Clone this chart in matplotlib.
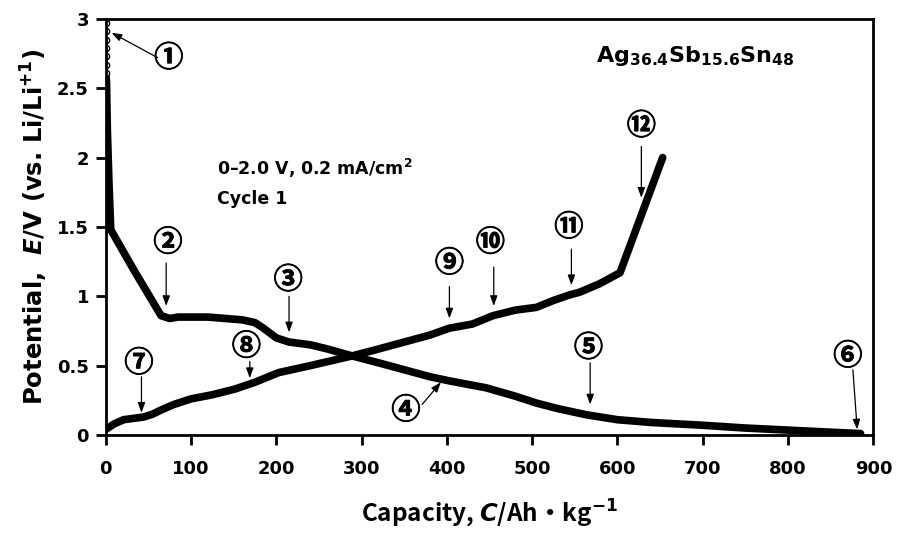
import matplotlib

matplotlib.use("Agg")
import matplotlib.pyplot as plt
import matplotlib.patheffects as pe

plt.rcParams["font.family"] = ["DejaVu Sans", "Noto Sans CJK JP"]
plt.rcParams["font.weight"] = "bold"
plt.rcParams["axes.labelweight"] = "bold"
plt.rcParams["mathtext.fontset"] = "custom"
plt.rcParams["mathtext.rm"] = "DejaVu Sans:bold"
plt.rcParams["mathtext.it"] = "DejaVu Sans:italic:bold"
plt.rcParams["mathtext.bf"] = "DejaVu Sans:bold"

# first discharge (lithiation), capacity in Ah/kg vs potential in V
open_y = [2.97, 2.91, 2.85, 2.79, 2.73, 2.67, 2.61]   # sparse open circles at C=0
discharge_x = [0, 1, 2, 4, 6, 33, 65, 75, 85, 100, 120, 140, 160, 175, 185, 200,
               215, 240, 260, 289, 320, 350, 380, 403, 420, 446, 480, 505, 530,
               564, 600, 640, 700, 750, 800, 850, 885]
discharge_y = [2.61, 2.55, 2.2, 1.8, 1.48, 1.19, 0.86, 0.84, 0.85, 0.85, 0.85, 0.84,
               0.83, 0.81, 0.77, 0.70, 0.67, 0.65, 0.62, 0.57, 0.52, 0.47, 0.42,
               0.39, 0.37, 0.34, 0.28, 0.23, 0.19, 0.145, 0.11, 0.09, 0.07, 0.05,
               0.035, 0.02, 0.01]
# first charge (delithiation)
charge_x = [0, 10, 21, 45, 55, 65, 80, 100, 125, 151, 175, 203, 240, 289, 320, 350,
            380, 403, 430, 454, 480, 505, 525, 544, 556, 579, 603, 653]
charge_y = [0.04, 0.08, 0.11, 0.13, 0.15, 0.18, 0.22, 0.26, 0.29, 0.33, 0.38, 0.45,
            0.50, 0.57, 0.62, 0.67, 0.72, 0.77, 0.80, 0.86, 0.90, 0.92, 0.97, 1.01,
            1.03, 1.09, 1.17, 2.00]

# markers: label, text position, arrow tail, arrow tip
marks = ["①", "②", "③", "④", "⑤", "⑥", "⑦", "⑧", "⑨", "⑩", "⑪", "⑫"]
mark_text = [(74, 2.72), (73, 1.39), (214, 1.12), (352, 0.18), (566, 0.63),
             (870, 0.57), (39, 0.52), (165, 0.64), (403, 1.24), (451, 1.39),
             (543, 1.50), (628, 2.23)]
mark_tail = [(61, 2.72), (71, 1.24), (215, 1.00), (371, 0.22), (568, 0.52),
             (876, 0.47), (42, 0.42), (169, 0.53), (403, 1.07), (455, 1.21),
             (546, 1.34), (628, 2.08)]
mark_tip = [(7, 2.90), (71, 0.93), (215, 0.74), (393, 0.38), (568, 0.22),
            (881, 0.04), (42, 0.16), (169, 0.41), (403, 0.84), (455, 0.93),
            (546, 1.08), (628, 1.71)]

fig = plt.figure(figsize=(8.99, 5.39), dpi=100)
ax = fig.add_axes([0.1175, 0.193, 0.854, 0.772])

ax.plot(discharge_x, discharge_y, color="black", lw=5.5, solid_capstyle="round",
        solid_joinstyle="round")
ax.plot(charge_x, charge_y, color="black", lw=5.5, solid_capstyle="round",
        solid_joinstyle="round")
ax.plot([0] * len(open_y), open_y, color="black", lw=1, marker="o", ms=4.5,
        mfc="white", mec="black", mew=1)

thick = [pe.withStroke(linewidth=0.6, foreground="black")]
for lab, t, s, e in zip(marks, mark_text, mark_tail, mark_tip):
    ax.text(t[0], t[1], lab, ha="center", va="center", fontsize=21,
            family=["Noto Sans CJK JP"], fontweight="bold", path_effects=thick)
    ax.annotate("", xy=e, xytext=s,
                arrowprops=dict(arrowstyle="-|>,head_length=0.6,head_width=0.22",
                                color="black", lw=0.9, shrinkA=0, shrinkB=0))

ax.text(575, 2.73, "Ag$_{36.4}$Sb$_{15.6}$Sn$_{48}$", fontsize=16, va="center")
ax.text(130, 1.92, "0\u20132.0 V, 0.2 mA/cm$^{2}$", fontsize=12.5, va="center")
ax.text(130, 1.70, "Cycle 1", fontsize=12.5, va="center")

ax.set_xlim(0, 900)
ax.set_ylim(0, 3)
ax.set_xticks(range(0, 901, 100))
ax.set_yticks([0, 0.5, 1, 1.5, 2, 2.5, 3])
ax.set_yticklabels(["0", "0.5", "1", "1.5", "2", "2.5", "3"])
ax.tick_params(direction="out", length=7, width=2, labelsize=13)
ax.tick_params(axis="x", pad=11)
ax.tick_params(axis="y", pad=5)
for sp in ax.spines.values():
    sp.set_linewidth(2)

ax.set_xlabel("Capacity, $C$/Ah\u30fbkg$^{-1}$", fontsize=17.5, labelpad=14,
              family="Noto Sans CJK JP")
ax.set_ylabel("Potential,  $E$/V (vs. Li/Li$^{+1}$)", fontsize=17.5, labelpad=5)

fig.savefig("out.png", dpi=100)
